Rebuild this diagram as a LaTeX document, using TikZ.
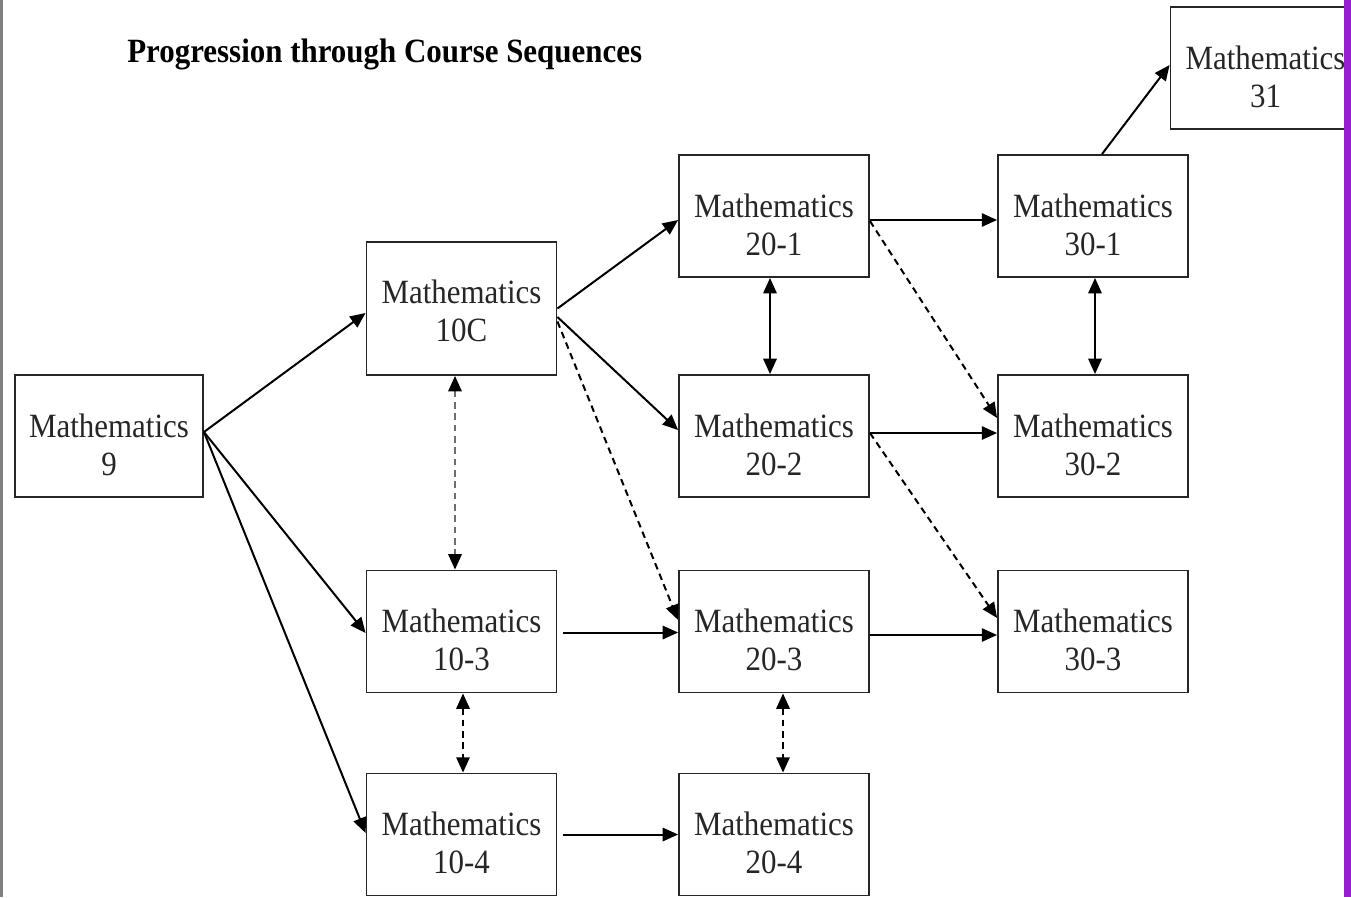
\documentclass[tikz,border=0pt]{standalone}
\usepackage{fontspec}
\setmainfont{Liberation Serif}[FakeStretch=0.91]
\usetikzlibrary{arrows.meta,calc}
\definecolor{barpurple}{RGB}{152,30,210}
\definecolor{edgegray}{RGB}{128,128,128}
\definecolor{dashgray}{RGB}{110,110,110}
\begin{document}
\begin{tikzpicture}[x=0.75pt,y=-0.75pt,
  box/.style={draw=black!85, line width=1.4pt, minimum width=142.5pt, minimum height=91.5pt, inner sep=0pt},
  tallbox/.style={box, minimum height=99.75pt},
  lbl/.style={align=center, inner sep=0pt, font=\fontsize{25.5}{28.5}\selectfont, text=black!85},
  conn/.style={line width=1.5pt, -{Triangle[length=11.5pt,width=10pt,black]}},
  dconn/.style={line width=1.5pt, {Triangle[length=11.5pt,width=10pt,black]}-{Triangle[length=11.5pt,width=10pt,black]}},
  dsh/.style={dash pattern=on 5pt off 3.5pt}]
\clip (0,0) rectangle (1351,897);
\useasboundingbox (0,0) rectangle (1351,897);
\fill[white] (0,0) rectangle (1351,897);

\node[anchor=base west, inner sep=0pt, font=\fontsize{25.5}{30}\selectfont\bfseries] (title) at (127,62) {Progression through Course Sequences};

% boxes
\node[box, minimum width=141pt] (m9) at (109,436) {};
\node[tallbox] (m10c) at (461.5,308.5) {};
\node[box] (m103) at (461.5,631.5) {};
\node[box] (m104) at (461.5,834.5) {};
\node[box] (m201) at (774,216) {};
\node[box] (m202) at (774,436) {};
\node[box] (m203) at (774,631.5) {};
\node[box] (m204) at (774,834.5) {};
\node[box] (m301) at (1093,216) {};
\node[box] (m302) at (1093,436) {};
\node[box] (m303) at (1093,631.5) {};
\node[box] (m31) at (1265.5,68) {};

% labels
\node[lbl] (m9t) at ($(m9)+(0,8.5)$) {Mathematics\\9};
\node[lbl] (m10ct) at ($(m10c)+(0,2.5)$) {Mathematics\\10C};
\node[lbl] (m103t) at ($(m103)+(0,8.5)$) {Mathematics\\10-3};
\node[lbl] (m104t) at ($(m104)+(0,8.5)$) {Mathematics\\10-4};
\node[lbl] (m201t) at ($(m201)+(0,8.5)$) {Mathematics\\20-1};
\node[lbl] (m202t) at ($(m202)+(0,8.5)$) {Mathematics\\20-2};
\node[lbl] (m203t) at ($(m203)+(0,8.5)$) {Mathematics\\20-3};
\node[lbl] (m204t) at ($(m204)+(0,8.5)$) {Mathematics\\20-4};
\node[lbl] (m301t) at ($(m301)+(0,8.5)$) {Mathematics\\30-1};
\node[lbl] (m302t) at ($(m302)+(0,8.5)$) {Mathematics\\30-2};
\node[lbl] (m303t) at ($(m303)+(0,8.5)$) {Mathematics\\30-3};
\node[lbl] (m31t) at ($(m31)+(0,8.5)$) {Mathematics\\31};

% connectors
\draw[conn] ($(m9.east)+(0,-4)$) -- ($(m10c.west)+(0,4.5)$);
\draw[conn] ($(m9.east)+(0,-4)$) -- ($(m103.west)+(0,1.5)$);
\draw[conn] ($(m9.east)+(0,-4)$) -- ($(m104.west)+(0,-1.5)$);
\draw[conn] (m10c.east) -- ($(m201.west)+(0,4)$);
\draw[conn] ($(m10c.east)+(0,8.5)$) -- ($(m202.west)+(0,-6)$);
\draw[conn,dsh] ($(m10c.east)+(0,13)$) -- ($(m203.west)+(0,-11.5)$);
\draw[dconn,dsh,draw=dashgray] ($(m10c.south)+(-6.5,0)$) -- ($(m103.north)+(-6.5,0)$);
\draw[dconn,dsh] ($(m103.south)+(1.5,0)$) -- ($(m104.north)+(1.5,0)$);
\draw[conn] ($(m103.east)+(6,1)$) -- ($(m203.west)+(0,1)$);
\draw[conn] ($(m104.east)+(6,0)$) -- (m204.west);
\draw[dconn] ($(m201.south)+(-4,0)$) -- ($(m202.north)+(-4,0)$);
\draw[dconn,dsh] ($(m203.south)+(9,0)$) -- ($(m204.north)+(9,0)$);
\draw[conn] ($(m201.east)+(0,4)$) -- ($(m301.west)+(0,4)$);
\draw[conn,dsh] ($(m201.east)+(0,5)$) -- ($(m302.west)+(0,-18)$);
\draw[conn] ($(m202.east)+(0,-3)$) -- ($(m302.west)+(0,-3)$);
\draw[conn,dsh] ($(m202.east)+(0,-3)$) -- ($(m303.west)+(0,-13.5)$);
\draw[conn] ($(m203.east)+(0,3.5)$) -- ($(m303.west)+(0,3.5)$);
\draw[dconn] ($(m301.south)+(2,0)$) -- ($(m302.north)+(2,0)$);
\draw[conn] ($(m301.north)+(9,0)$) -- ($(m31.west)+(0,-3)$);

% page edges
\fill[edgegray] (0,0) rectangle (3,897);
\fill[barpurple] (1344,0) rectangle (1351,897);
\end{tikzpicture}
\end{document}
